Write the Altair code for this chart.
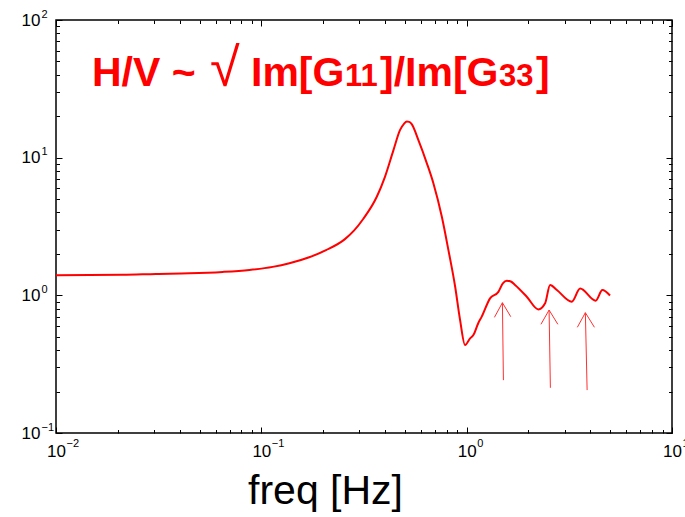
import altair as alt
import pandas as pd

# ---- data ----
freq = [0.01, 0.0211, 0.0307, 0.0446, 0.0649, 0.0875, 0.1136, 0.137, 0.171,
        0.2065, 0.2545, 0.2825, 0.314, 0.365, 0.40, 0.44, 0.474, 0.495,
        0.511, 0.525, 0.54, 0.582, 0.64, 0.689, 0.757, 0.815, 0.879, 0.929,
        0.982, 1.039, 1.078, 1.14, 1.184, 1.30, 1.427, 1.50, 1.568, 1.64, 1.72,
        1.962, 2.234, 2.41, 2.548, 2.75, 3.25, 3.57, 4.25, 4.58, 4.99]
hv = [1.40, 1.41, 1.43, 1.445, 1.48, 1.53, 1.61, 1.71, 1.89,
      2.13, 2.55, 2.95, 3.6, 5.2, 7.26, 11.35, 15.9, 17.6,
      18.3, 18.2, 17.5, 13.4, 9.1, 6.5, 3.72, 2.13, 1.155, 0.661,
      0.436, 0.487, 0.515, 0.63, 0.70, 0.951, 1.06, 1.22, 1.276, 1.26, 1.19,
      0.977, 0.79, 0.875, 1.19, 1.093, 0.899, 1.12, 0.914, 1.093, 0.997]

# arrows: shaft and two head strokes (start freq/value -> end freq/value)
arrow_f1 = [1.51, 1.365, 1.64, 2.557, 2.30, 2.78, 3.86, 3.46, 4.19]
arrow_v1 = [0.242, 0.692, 0.699, 0.213, 0.616, 0.616, 0.205, 0.586, 0.586]
arrow_f2 = [1.493, 1.493, 1.493, 2.52, 2.52, 2.52, 3.785, 3.785, 3.785]
arrow_v2 = [0.884, 0.884, 0.884, 0.782, 0.782, 0.782, 0.748, 0.748, 0.748]

x_major = [0.01, 0.1, 1, 10]
y_major = [0.1, 1, 10, 100]
x_minor = [0.02, 0.03, 0.04, 0.05, 0.06, 0.07, 0.08, 0.09,
           0.2, 0.3, 0.4, 0.5, 0.6, 0.7, 0.8, 0.9,
           2, 3, 4, 5, 6, 7, 8, 9]
y_minor = [0.2, 0.3, 0.4, 0.5, 0.6, 0.7, 0.8, 0.9,
           2, 3, 4, 5, 6, 7, 8, 9,
           20, 30, 40, 50, 60, 70, 80, 90]

x_title = "freq [Hz]"
title_parts = ["H/V ~", "\u221a", "Im[G", "11", "]/Im[G", "33", "]"]

FONT = "Liberation Sans"
RED = "#ff0000"

curve = pd.DataFrame({"f": freq, "hv": hv})
arrows = pd.DataFrame({"f1": arrow_f1, "v1": arrow_v1, "f2": arrow_f2, "v2": arrow_v2})

xs = alt.Scale(type="log", domain=[0.01, 10], nice=False)
ys = alt.Scale(type="log", domain=[0.1, 100], nice=False)

EXP = "format(round(log(datum.value)/LN10), 'd')"


def tick_axis(orient, values, size, **kw):
    base = dict(orient=orient, values=values, tickSize=size, offset=-size,
                domain=False, grid=False, labels=False, title=None,
                tickColor="black", tickWidth=1)
    base.update(kw)
    return alt.Axis(**base)


# main curve with major ticks and "10" labels
line = alt.Chart(curve).mark_line(color=RED, strokeWidth=2, interpolate="monotone").encode(
    x=alt.X("f:Q", scale=xs, axis=tick_axis(
        "bottom", x_major, 6, labels=True, labelExpr="'10'", labelFont=FONT,
        labelFontSize=17, labelColor="black", labelAlign="center", labelBaseline="top",
        labelPadding=10, labelOverlap=False, labelFlush=False, labelBound=False,
        title=x_title, titleFont=FONT, titleFontSize=41, titleFontWeight="normal",
        titleColor="black", titleX=269, titleY=76, titleAlign="center",
        titleBaseline="alphabetic")),
    y=alt.Y("hv:Q", scale=ys, axis=tick_axis(
        "left", y_major, 6, labels=True, labelExpr="'10'", labelFont=FONT,
        labelFontSize=17, labelColor="black", labelAlign="right", labelBaseline="middle",
        labelPadding=16, labelOverlap=False, labelFlush=False, labelBound=False)),
)

# exponent labels
exps = alt.Chart(curve).mark_line(opacity=0).encode(
    x=alt.X("f:Q", scale=xs, axis=alt.Axis(
        orient="bottom", values=x_major, ticks=False, domain=False, grid=False,
        title=None, labelExpr=EXP, labelFont=FONT, labelFontSize=11,
        labelColor="black", labelAlign="left", labelBaseline="top", labelOffset=10,
        labelPadding=4, labelOverlap=False, labelFlush=False, labelBound=False)),
    y=alt.Y("hv:Q", scale=ys, axis=alt.Axis(
        orient="left", values=y_major, ticks=False, domain=False, grid=False,
        title=None, labelExpr=EXP, labelFont=FONT, labelFontSize=11,
        labelColor="black", labelAlign="left", labelBaseline="middle", labelOffset=-6,
        labelPadding=15, labelOverlap=False, labelFlush=False, labelBound=False)),
)

minor_bl = alt.Chart(curve).mark_line(opacity=0).encode(
    x=alt.X("f:Q", scale=xs, axis=tick_axis("bottom", x_minor, 3.5)),
    y=alt.Y("hv:Q", scale=ys, axis=tick_axis("left", y_minor, 3.5)),
)
major_tr = alt.Chart(curve).mark_line(opacity=0).encode(
    x=alt.X("f:Q", scale=xs, axis=tick_axis("top", x_major, 6)),
    y=alt.Y("hv:Q", scale=ys, axis=tick_axis("right", y_major, 6)),
)
minor_tr = alt.Chart(curve).mark_line(opacity=0).encode(
    x=alt.X("f:Q", scale=xs, axis=tick_axis("top", x_minor, 3.5)),
    y=alt.Y("hv:Q", scale=ys, axis=tick_axis("right", y_minor, 3.5)),
)

arrow_layer = alt.Chart(arrows).mark_rule(color="#ff3030", strokeWidth=1).encode(
    x=alt.X("f1:Q", scale=xs, axis=None), y=alt.Y("v1:Q", scale=ys, axis=None),
    x2="f2:Q", y2="v2:Q",
)


def title_piece(text, x, size, weight="bold"):
    return alt.Chart(pd.DataFrame({"t": [text]})).mark_text(
        align="left", baseline="alphabetic", font=FONT, fontSize=size,
        fontWeight=weight, color=RED,
    ).encode(text="t:N", x=alt.value(x), y=alt.value(66))


title_layers = [
    title_piece(title_parts[0], 36, 41),
    title_piece(title_parts[1], 154, 54, "normal"),
    title_piece(title_parts[2], 195, 41),
    title_piece(title_parts[3], 289, 31),
    title_piece(title_parts[4], 324, 41),
    title_piece(title_parts[5], 443, 31),
    title_piece(title_parts[6], 480, 41),
]

chart = alt.layer(
    line, exps, minor_bl, major_tr, minor_tr, arrow_layer, *title_layers
).resolve_axis(x="independent", y="independent").properties(
    width=616, height=413,
    autosize=alt.AutoSizeParams(type="none"),
    padding={"left": 56, "top": 20, "right": 13, "bottom": 84},
    background="white",
).configure_view(stroke="black", strokeWidth=1.5)

chart.save("out.html", embed_options={"renderer": "svg", "actions": False})
